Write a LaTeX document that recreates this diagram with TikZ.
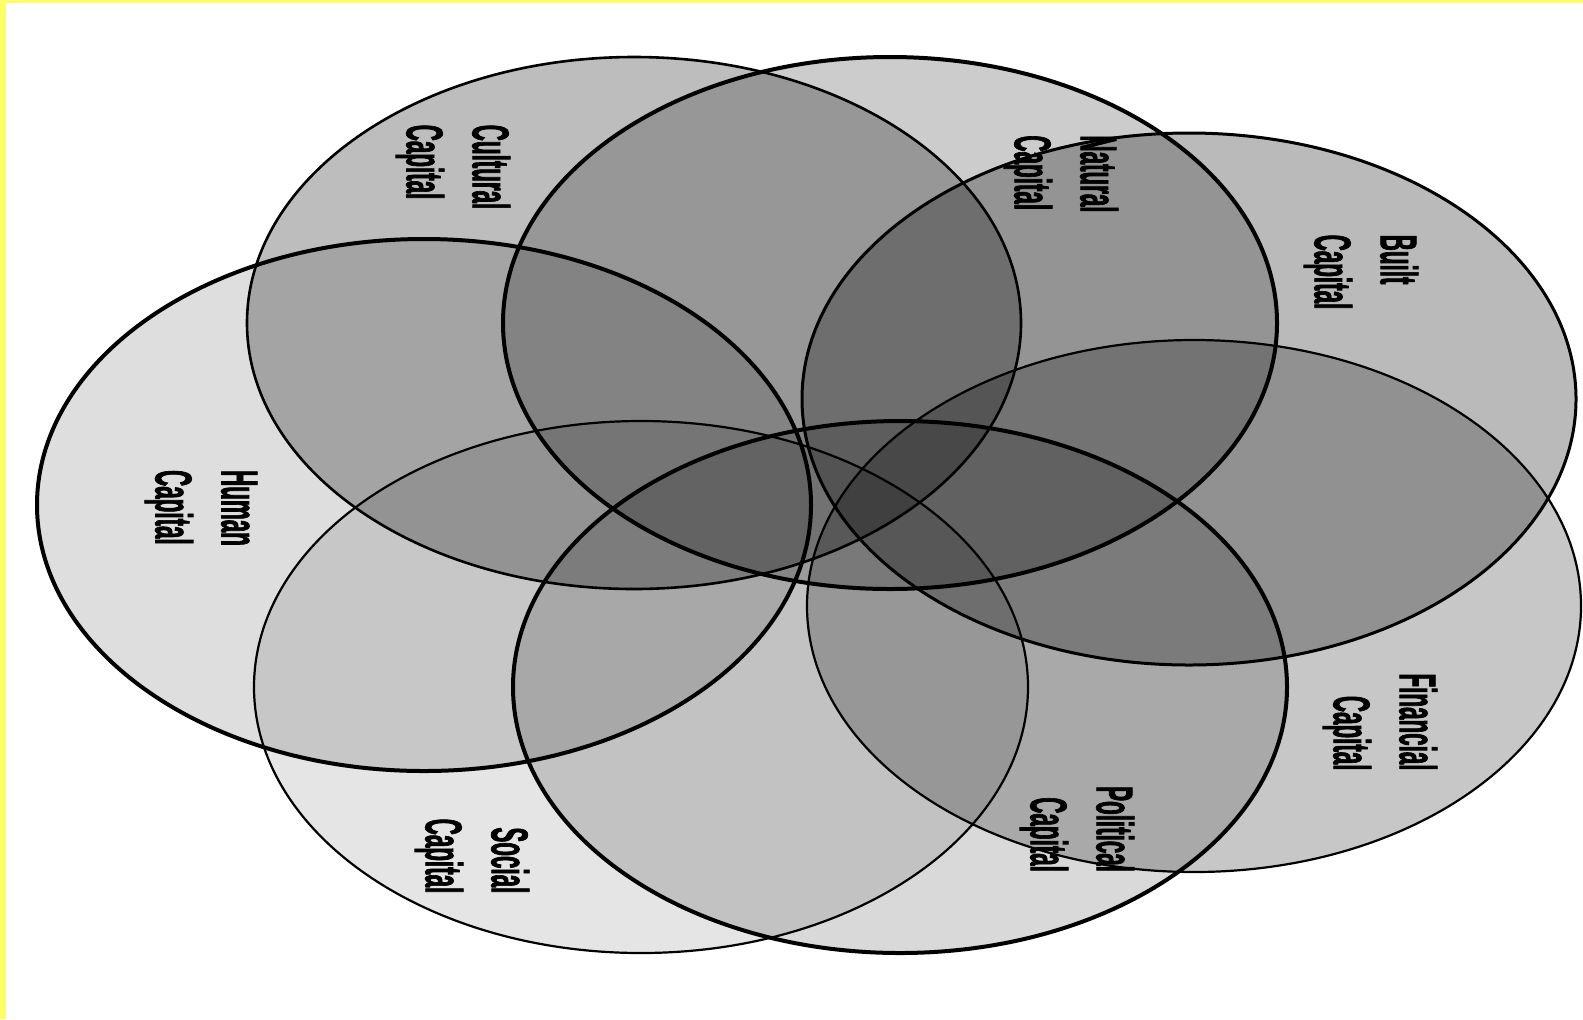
\documentclass[tikz,border=0pt]{standalone}
\usepackage{fontspec}
\newfontfamily\capfont[FakeStretch=0.43,FakeBold=1.2]{Liberation Sans Bold}
\definecolor{frameyellow}{HTML}{FFFF66}
\begin{document}
\begin{tikzpicture}[x=0.5pt,y=-0.5pt,
  cap/.style={fill=black,fill opacity=#1,draw=none},
  rim/.style={draw=black,line width=#1},
  lbl/.style={rotate=-90,inner sep=0pt,font=\capfont\fontsize{26}{33}\selectfont}]
\useasboundingbox (0,0) rectangle (1583,1019);
\fill[white] (0,0) rectangle (1583,1019);
\fill[frameyellow] (0,0) rectangle (1583,3);
\fill[frameyellow] (0,0) rectangle (6,1019);
% centres
\coordinate (cul) at (634,323);
\coordinate (nat) at (890,323);
\coordinate (bui) at (1189,399);
\coordinate (fin) at (1194,606);
\coordinate (pol) at (900,687);
\coordinate (soc) at (641,687);
\coordinate (hum) at (424,505);
% fills
\path[cap=0.26] (cul) ellipse [x radius=387,y radius=266];
\path[cap=0.20] (nat) ellipse [x radius=387,y radius=266];
\path[cap=0.27] (bui) ellipse [x radius=387,y radius=266];
\path[cap=0.22] (fin) ellipse [x radius=387,y radius=266];
\path[cap=0.15] (pol) ellipse [x radius=387,y radius=266];
\path[cap=0.10] (soc) ellipse [x radius=387,y radius=266];
\path[cap=0.13] (hum) ellipse [x radius=387,y radius=266];
% outlines
\draw[rim=1.3pt] (cul) ellipse [x radius=387,y radius=266];
\draw[rim=2pt] (nat) ellipse [x radius=387,y radius=266];
\draw[rim=1.5pt] (bui) ellipse [x radius=387,y radius=266];
\draw[rim=1.1pt] (fin) ellipse [x radius=387,y radius=266];
\draw[rim=2pt] (pol) ellipse [x radius=387,y radius=266];
\draw[rim=1.1pt] (soc) ellipse [x radius=387,y radius=266];
\draw[rim=2pt] (hum) ellipse [x radius=387,y radius=266];
% labels
\node[lbl,align=left] (lcul) at (453,167) {Cultural\\Capital};
\node[lbl,align=left] (lnat) at (1061,174) {Natural\\Capital};
\node[lbl,align=left] (lbui) at (1361,272) {Built\\Capital};
\node[lbl,align=left] (lhum) at (201,508) {Human\\Capital};
\node[lbl,align=right] (lfin) at (1380,722) {Financial\\Capital};
\node[lbl,align=right] (lpol) at (1077,829) {Political\\Capital};
\node[lbl,align=right] (lsoc) at (472,856) {Social\\Capital};
\end{tikzpicture}
\end{document}
